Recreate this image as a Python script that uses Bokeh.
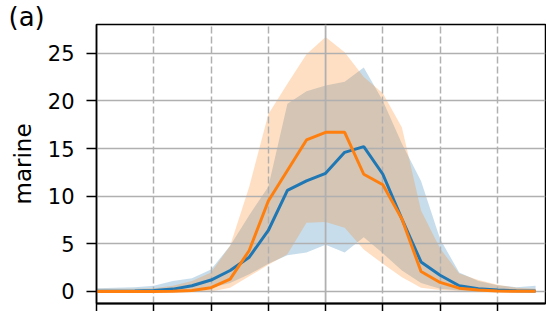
from bokeh.plotting import figure
from bokeh.models import FixedTicker, Span, Range1d, CustomJSTickFormatter
from bokeh.embed import file_html
from bokeh.resources import INLINE

# ---- data ----
steps = list(range(24))
blue_mean = [0.02, 0.03, 0.05, 0.1, 0.25, 0.6, 1.2, 2.2, 3.6, 6.4, 10.6, 11.6,
             12.4, 14.6, 15.2, 12.3, 7.6, 3.1, 1.7, 0.6, 0.3, 0.15, 0.08, 0.05]
orange_mean = [0.0, 0.0, 0.0, 0.0, 0.02, 0.1, 0.4, 1.3, 4.3, 9.5, 12.7, 15.9,
               16.7, 16.7, 12.3, 11.2, 7.6, 2.1, 0.95, 0.35, 0.15, 0.05, 0.02, 0.02]
blue_upper = [0.35, 0.4, 0.45, 0.6, 1.1, 1.4, 2.3, 4.8, 8.0, 11.0, 19.7, 21.0,
              21.6, 22.0, 23.5, 20.0, 15.5, 11.6, 5.5, 2.0, 1.1, 0.65, 0.45, 0.6]
blue_lower = [0.0, 0.0, 0.0, 0.0, 0.0, 0.0, 0.4, 0.9, 1.8, 2.9, 3.8, 4.1,
              4.9, 4.1, 5.7, 4.0, 2.2, 0.9, 0.3, 0.1, 0.0, 0.0, 0.0, 0.0]
orange_upper = [0.28, 0.28, 0.3, 0.35, 0.6, 1.1, 2.0, 4.8, 11.0, 18.6, 21.8, 24.9,
                26.7, 25.1, 22.5, 20.8, 17.2, 8.5, 4.5, 1.9, 1.2, 0.7, 0.4, 0.3]
orange_lower = [0.0, 0.0, 0.0, 0.0, 0.0, 0.0, 0.0, 0.4, 1.6, 2.8, 3.9, 7.2,
                7.3, 6.7, 4.4, 2.9, 1.5, 0.4, 0.15, 0.05, 0.0, 0.0, 0.0, 0.0]
y_ticks = [0, 5, 10, 15, 20, 25]
x_ticks = [0, 3, 6, 9, 12, 15, 18, 21]
x_dashed_ticks = [3, 6, 9, 15, 18, 21]
x_center = 12
panel_label = "(a)"
y_label = "marine"

BLUE = "#1f77b4"
ORANGE = "#ff7f0e"
GRID = "#b0b0b0"
FONT = "DejaVu Sans"

p = figure(width=546, height=311, output_backend="svg", toolbar_location=None,
           x_range=Range1d(0, 23.52), y_range=Range1d(-1.26, 28.01),
           min_border_left=96, min_border_right=1, min_border_top=24,
           min_border_bottom=8)
p.background_fill_color = "white"
p.border_fill_color = "white"
p.outline_line_color = "black"
p.outline_line_width = 1.5

# panel letter as the title, pulled to the left edge
p.title.text = panel_label
p.title.align = "left"
p.title.offset = -88
p.title.standoff = -14
p.title.text_font = FONT
p.title.text_font_size = "26px"
p.title.text_font_style = "normal"
p.title.text_color = "black"

# bands (below the grid)
rb = p.varea(x=steps, y1=blue_lower, y2=blue_upper, fill_color=BLUE, fill_alpha=0.25)
ro = p.varea(x=steps, y1=orange_lower, y2=orange_upper, fill_color=ORANGE, fill_alpha=0.25)
rb.level = "image"
ro.level = "image"

# lines
p.line(steps, blue_mean, line_color=BLUE, line_width=3)
p.line(steps, orange_mean, line_color=ORANGE, line_width=3)

# grids
p.xgrid.ticker = FixedTicker(ticks=x_dashed_ticks)
p.xgrid.grid_line_color = GRID
p.xgrid.grid_line_width = 1.5
p.xgrid.grid_line_dash = "7 3"
p.ygrid.ticker = FixedTicker(ticks=y_ticks)
p.ygrid.grid_line_color = GRID
p.ygrid.grid_line_width = 1.4

center = Span(location=x_center, dimension="height", line_color=GRID, line_width=1.8)
center.level = "underlay"
p.add_layout(center)

xax = p.xaxis[0]
xax.ticker = FixedTicker(ticks=x_ticks)
xax.formatter = CustomJSTickFormatter(code="return ''")
xax.major_label_text_font_size = "0px"
xax.major_label_standoff = 0
xax.minor_tick_line_color = None
xax.major_tick_out = 8
xax.major_tick_in = 0
xax.major_tick_line_color = "black"
xax.major_tick_line_width = 1.5
xax.axis_line_color = "black"
xax.axis_line_width = 2.2

yax = p.yaxis[0]
yax.ticker = FixedTicker(ticks=y_ticks)
yax.minor_tick_line_color = None
yax.major_tick_out = 10
yax.major_tick_in = 0
yax.major_tick_line_color = "black"
yax.major_tick_line_width = 1.4
yax.axis_line_color = "black"
yax.axis_line_width = 1.5
yax.major_label_text_font = FONT
yax.major_label_text_font_size = "21px"
yax.major_label_text_color = "black"
yax.major_label_standoff = 12
yax.axis_label = y_label
yax.axis_label_text_font = FONT
yax.axis_label_text_font_size = "23px"
yax.axis_label_text_font_style = "normal"
yax.axis_label_text_color = "black"
yax.axis_label_standoff = 9

open("out.html", "w").write(file_html(p, INLINE))
